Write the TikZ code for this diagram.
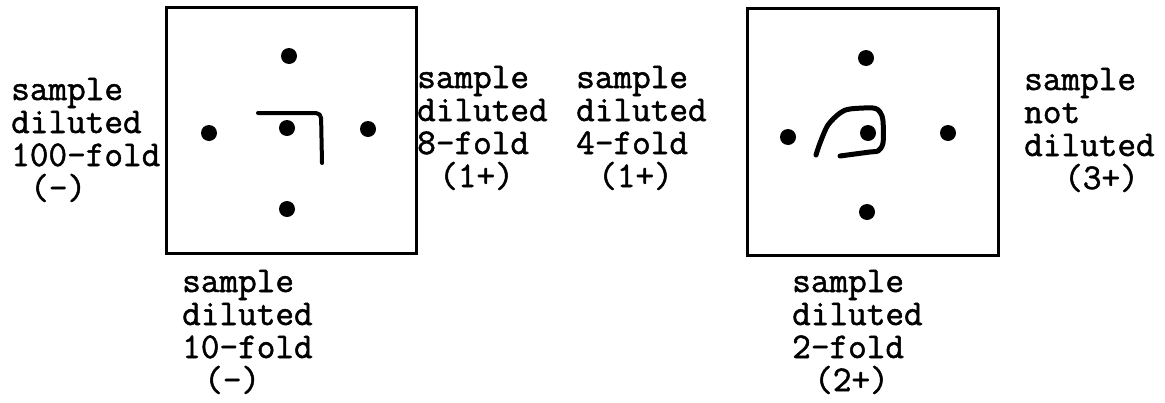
\documentclass[tikz,border=0pt]{standalone}
\usepackage{fontspec}
\newfontfamily\typewriter{Latin Modern Mono}[FakeBold=1.4]
\newcommand{\typedlines}[1]{\vtop{#1}}
\begin{document}
\begin{tikzpicture}[x=1pt,y=-1pt,
  plate/.style={draw, line width=3pt, inner sep=0pt, outer sep=0pt},
  well/.style={circle, fill, inner sep=0pt, minimum size=16pt},
  caption/.style={anchor=base west, inner sep=0pt, font=\fontsize{36.2}{33}\typewriter},
  precip/.style={line width=4pt, line cap=round, line join=round}]
\useasboundingbox (0,0) rectangle (1165,402);

% left gel plate
\node[plate, minimum width=250pt, minimum height=246pt] (plateA) at (291,130) {};
\node[well] (aTop) at (289,56) {};
\node[well] (aMid) at (287,128) {};
\node[well] (aLeft) at (209,133) {};
\node[well] (aRight) at (368,129) {};
\node[well] (aBot) at (287,209) {};
% precipitin line, left plate
\draw[precip, rounded corners=5pt] (258,113) -- (321,113) -- (322,163);

% right gel plate
\node[plate, minimum width=251pt, minimum height=247pt] (plateB) at (872.5,131.5) {};
\node[well] (bTop) at (866,58) {};
\node[well] (bMid) at (868,133) {};
\node[well] (bLeft) at (788,137) {};
\node[well] (bRight) at (948,133) {};
\node[well] (bBot) at (867,212) {};
% precipitin line, right plate
\draw[precip, line width=5pt] plot[smooth, tension=0.5] coordinates {
  (816,155) (820,143) (828,125) (840,113) (850,109) (873,108)
  (880,112) (883,121) (883,143) (878,151) (870,152) (840,156)};

% dilution captions
\node[caption] (cap100) at (11,100) {\typedlines{\hbox{sample}\hbox{diluted}\hbox{100-fold}\hbox{\hspace*{19pt}(-)}}};
\node[caption] (cap10) at (182,292) {\typedlines{\hbox{sample}\hbox{diluted}\hbox{10-fold}\hbox{\hspace*{22pt}(-)}}};
\node[caption] (cap8) at (417,88) {\typedlines{\hbox{sample}\hbox{diluted}\hbox{8-fold}\hbox{\hspace*{22pt}(1+)}}};
\node[caption] (cap4) at (576,88) {\typedlines{\hbox{sample}\hbox{diluted}\hbox{4-fold}\hbox{\hspace*{22pt}(1+)}}};
\node[caption] (cap1) at (1024,90) {\typedlines{\hbox{sample}\hbox{not}\hbox{diluted}\hbox{\hspace*{40pt}(3+)}}};
\node[caption] (cap2) at (792,292) {\typedlines{\hbox{sample}\hbox{diluted}\hbox{2-fold}\hbox{\hspace*{22pt}(2+)}}};
\end{tikzpicture}
\end{document}
